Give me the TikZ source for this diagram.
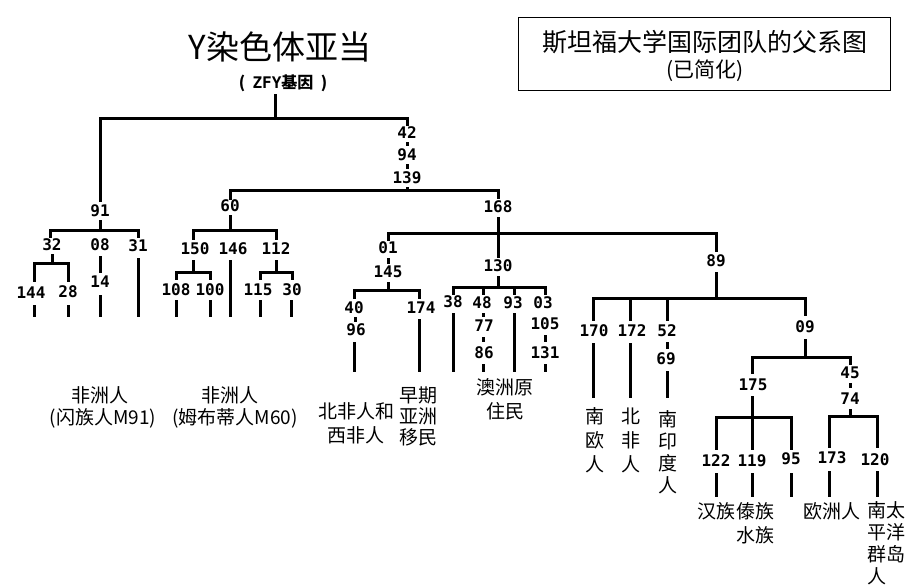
\documentclass[tikz,border=0pt]{standalone}
\usepackage{fontspec}
\newfontfamily\cjk{Noto Sans CJK SC}
\newfontfamily\mono{DejaVu Sans Mono}
\begin{document}
\begin{tikzpicture}[x=1pt,y=-1pt,
  num/.style={font=\mono\bfseries\fontsize{16}{16}\selectfont,inner sep=0pt},
  lab/.style={font=\cjk\fontsize{19}{24}\selectfont,inner sep=0pt,align=center},
  br/.style={line width=3pt,line cap=rect}]
\useasboundingbox[fill=white] (0,0) rectangle (910,584);
% title
\node[font=\cjk\fontsize{33}{33}\selectfont,inner sep=0pt] (title) at (280,47) {Y染色体亚当};
\node[font=\cjk\bfseries\fontsize{16}{16}\selectfont,inner sep=0pt] (zfy) at (283,83) {(\ \ {\mono\bfseries ZFY}基因\ \ )};
\node[draw,line width=1pt,minimum width=372pt,minimum height=73pt,inner sep=0pt] (box) at (704,54) {};
\node[font=\cjk\fontsize{25}{25}\selectfont,inner sep=0pt] (bt1) at (705,42) {斯坦福大学国际团队的父系图};
\node[font=\cjk\fontsize{21}{21}\selectfont,inner sep=0pt] (bt2) at (705,71) {(已简化)};
% top
\draw[br] (275,95) -- (275,118);
\draw[br] (100,200) -- (100,118) -- (407,118) -- (407,124);
\node[num] (n42) at (407,133) {42};
\node[num] (n94) at (407,155) {94};
\node[num] (n139) at (407,178) {139};
\draw[br] (407,143) -- (407,144);
\draw[br] (407,165) -- (407,167);
\draw[br] (407,188) -- (407,190);
\draw[br] (230,198) -- (230,190) -- (498,190) -- (498,197);
% 91
\node[num] (n91) at (100,211) {91};
\draw[br] (100,221) -- (100,230);
\draw[br] (50,236) -- (50,230) -- (138,230) -- (138,236);
\node[num] (n32) at (52,245) {32};
\node[num] (n08) at (100,245) {08};
\node[num] (n31) at (138,246) {31};
\draw[br] (52,255) -- (52,263);
\draw[br] (34,280) -- (34,263) -- (68,263) -- (68,280);
\node[num] (n144) at (31,293) {144};
\node[num] (n28) at (68,292) {28};
\draw[br] (34,306) -- (34,315);
\draw[br] (68,306) -- (68,315);
\draw[br] (100,257) -- (100,271);
\node[num] (n14) at (100,282) {14};
\draw[br] (100,296) -- (100,315);
\draw[br] (138,259) -- (138,315);
\node[lab] (l91) at (100,395) {非洲人};
\node[lab] (l91b) at (103,418) {(闪族人M91)};
% 60
\node[num] (n60) at (230,206) {60};
\draw[br] (230,216) -- (230,230);
\draw[br] (193,238) -- (193,230) -- (276,230) -- (276,238);
\node[num] (n150) at (195,249) {150};
\node[num] (n146) at (233,249) {146};
\node[num] (n112) at (276,249) {112};
\draw[br] (193,261) -- (193,272);
\draw[br] (176,278) -- (176,272) -- (210,272) -- (210,278);
\node[num] (n108) at (176,290) {108};
\node[num] (n100) at (210,290) {100};
\draw[br] (176,301) -- (176,315);
\draw[br] (210,301) -- (210,315);
\draw[br] (230,261) -- (230,315);
\draw[br] (276,261) -- (276,272);
\draw[br] (260,278) -- (260,272) -- (292,272) -- (292,278);
\node[num] (n115) at (258,290) {115};
\node[num] (n30) at (292,290) {30};
\draw[br] (260,301) -- (260,315);
\draw[br] (291,301) -- (291,315);
\node[lab] (l60) at (230,395) {非洲人};
\node[lab] (l60b) at (235,418) {(姆布蒂人M60)};
% 168
\node[num] (n168) at (498,207) {168};
\draw[br] (498,218) -- (498,256);
\draw[br] (388,239) -- (388,233) -- (716,233) -- (716,250);
% 01
\node[num] (n01) at (388,248) {01};
\draw[br] (388,259) -- (388,262);
\node[num] (n145) at (388,272) {145};
\draw[br] (388,283) -- (388,290);
\draw[br] (354,297) -- (354,290) -- (419,290) -- (419,297);
\node[num] (n40) at (354,308) {40};
\draw[br] (355,318) -- (355,320);
\node[num] (n96) at (356,330) {96};
\draw[br] (354,343) -- (354,370);
\node[num] (n174) at (421,308) {174};
\draw[br] (419,320) -- (419,370);
\node[lab] (l01) at (356,423) {北非人和\\西非人};
\node[lab,font=\cjk\fontsize{19}{21}\selectfont] (l174) at (418,416) {早期\\亚洲\\移民};
% 130
\node[num] (n130) at (498,266) {130};
\draw[br] (498,277) -- (498,287);
\draw[br] (453,293) -- (453,287) -- (545,287) -- (545,293);
\draw[br] (483,287) -- (483,293);
\draw[br] (514,287) -- (514,293);
\node[num] (n38) at (453,302) {38};
\node[num] (n48) at (482,303) {48};
\node[num] (n93) at (513,303) {93};
\node[num] (n03) at (543,303) {03};
\draw[br] (453,314) -- (453,370);
\draw[br] (483,314) -- (483,315);
\node[num] (n77) at (484,326) {77};
\draw[br] (483,338) -- (483,340);
\node[num] (n86) at (484,353) {86};
\draw[br] (483,365) -- (483,370);
\draw[br] (514,314) -- (514,370);
\node[num] (n105) at (545,324) {105};
\draw[br] (545,336) -- (545,340);
\node[num] (n131) at (545,353) {131};
\draw[br] (545,365) -- (545,370);
\node[lab] (l130) at (505,399) {澳洲原\\住民};
% 89
\node[num] (n89) at (716,261) {89};
\draw[br] (716,273) -- (716,298);
\draw[br] (593,319) -- (593,298) -- (805,298) -- (805,314);
\draw[br] (630,298) -- (630,319);
\draw[br] (667,298) -- (667,319);
\node[num] (n170) at (594,331) {170};
\node[num] (n172) at (632,331) {172};
\node[num] (n52) at (667,331) {52};
\node[num] (n09) at (805,327) {09};
\draw[br] (593,344) -- (593,396);
\draw[br] (630,344) -- (630,396);
\draw[br] (667,343) -- (667,347);
\node[num] (n69) at (666,359) {69};
\draw[br] (667,372) -- (667,396);
\node[lab] (l170) at (595,440) {南\\欧\\人};
\node[lab] (l172) at (631,440) {北\\非\\人};
\node[lab,font=\cjk\fontsize{19}{22}\selectfont] (l52) at (668,452) {南\\印\\度\\人};
% 09
\draw[br] (805,340) -- (805,357);
\draw[br] (752,372) -- (752,357) -- (850,357) -- (850,363);
\node[num] (n175) at (753,385) {175};
\draw[br] (752,397) -- (752,448);
\draw[br] (716,448) -- (716,417) -- (791,417) -- (791,448);
\node[num] (n122) at (716,461) {122};
\node[num] (n119) at (752,461) {119};
\node[num] (n95) at (791,459) {95};
\draw[br] (716,474) -- (716,495);
\draw[br] (752,474) -- (752,495);
\draw[br] (791,474) -- (791,495);
\node[num] (n45) at (850,373) {45};
\draw[br] (850,384) -- (850,386);
\node[num] (n74) at (850,399) {74};
\draw[br] (850,410) -- (850,416);
\draw[br] (829,446) -- (829,416) -- (877,416) -- (877,446);
\node[num] (n173) at (832,458) {173};
\node[num] (n120) at (875,460) {120};
\draw[br] (829,472) -- (829,495);
\draw[br] (877,472) -- (877,495);
\node[lab] (l122) at (716,511) {汉族};
\node[lab] (l119) at (755,523) {傣族\\水族};
\node[lab] (l173) at (832,511) {欧洲人};
\node[lab,align=left,font=\cjk\fontsize{19}{22}\selectfont] (l120) at (886,543) {南太\\平洋\\群岛\\人};
\end{tikzpicture}
\end{document}
